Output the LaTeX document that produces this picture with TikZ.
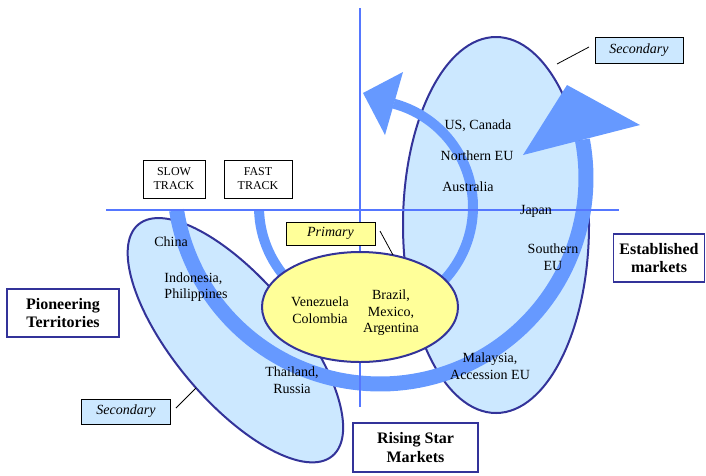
\documentclass[tikz,border=0pt]{standalone}
\usepackage{fontspec}
\setmainfont{Liberation Serif}
\usetikzlibrary{shapes.geometric}
\definecolor{paleblue}{HTML}{CCE8FF}
\definecolor{edgeblue}{HTML}{333399}
\definecolor{paleyellow}{HTML}{FFFF99}
\definecolor{flowblue}{HTML}{6699FF}
\definecolor{axisblue}{HTML}{5577FF}
\begin{document}
\begin{tikzpicture}[x=1pt,y=-1pt,
  region/.style={ellipse, draw=edgeblue, line width=2pt, fill=paleblue, inner sep=0pt},
  core/.style={ellipse, draw=edgeblue, line width=2pt, fill=paleyellow, inner sep=0pt},
  axisline/.style={draw=axisblue, line width=1.4pt},
  trackbox/.style={draw=black, line width=0.8pt, fill=white, align=center, inner sep=0pt,
    font=\fontsize{12}{14}\selectfont},
  tagbox/.style={draw=black, line width=0.8pt, inner sep=0pt,
    font=\fontsize{14}{16}\selectfont\itshape},
  groupbox/.style={draw=edgeblue, line width=1.5pt, fill=white, align=center, inner sep=0pt,
    font=\fontsize{16}{18.5}\selectfont\bfseries},
  lbl/.style={font=\fontsize{14}{16.5}\selectfont, align=center, inner sep=0pt},
  leader/.style={draw=black, line width=0.8pt}]

\useasboundingbox (0,0) rectangle (706,475);

% market regions
\node[region, minimum width=302pt, minimum height=122pt, rotate=-50] (pioneerzone) at (235.4,340.2) {};
\node[region, minimum width=186pt, minimum height=376pt] (establishedzone) at (496,225) {};

% slow-track flow: wide sweep from the pioneering side up into the established side
\draw[flowblue, line width=15pt] plot[domain=189:370.7, samples=90]
  ({380+206*cos(\x)},{178-206*sin(\x)});
\fill[flowblue] (523,155) -- (640,125) -- (567,85) -- cycle;

% fast-track flow: tight loop round the primary markets
\draw[flowblue, line width=10pt] plot[domain=181.6:435, samples=90]
  ({366+107*cos(\x)},{207-107*sin(\x)});
\fill[flowblue] (403,72) -- (363,93) -- (385,135) -- cycle;

% axes
\coordinate (hleft) at (106,210);
\coordinate (hright) at (619,210);
\coordinate (vtop) at (360,8);
\coordinate (vbottom) at (360,407);
\draw[axisline] (hleft) -- (hright);
\draw[axisline] (vtop) -- (vbottom);

% primary markets
\node[core, minimum width=196pt, minimum height=110pt] (primaryzone) at (360,307) {};

% country labels
\node[lbl] (china) at (171,242) {China};
\node[lbl, align=left] (indonesia) at (196,287) {Indonesia,\\Philippines};
\node[lbl] (thailand) at (292,380) {Thailand,\\Russia};
\node[lbl] (us) at (478,126) {US, Canada};
\node[lbl] (northeu) at (477,156) {Northern EU};
\node[lbl] (australia) at (468,187) {Australia};
\node[lbl] (japan) at (536,211) {Japan};
\node[lbl] (southeu) at (553,257) {Southern\\EU};
\node[lbl] (malaysia) at (490,366) {Malaysia,\\Accession EU};
\node[lbl] (venezuela) at (320,310) {Venezuela\\Colombia};
\node[lbl] (brazil) at (391,313) {Brazil,\\Mexico,\\Argentina};

% track boxes
\node[trackbox, minimum width=62pt, minimum height=38pt] (slow) at (174,179) {SLOW\\TRACK};
\node[trackbox, minimum width=68pt, minimum height=38pt] (fast) at (258,179) {FAST\\TRACK};

% primary / secondary tags
\node[tagbox, fill=paleyellow, minimum width=89pt, minimum height=23pt] (primary) at (330.5,233.5) {Primary};
\node[tagbox, fill=paleblue, minimum width=88pt, minimum height=26pt] (secondtop) at (639,50) {Secondary};
\node[tagbox, fill=paleblue, minimum width=89pt, minimum height=25pt] (secondlow) at (126,411.5) {Secondary};
\coordinate (ptop) at (380,231);
\coordinate (ptip) at (393,255);
\coordinate (stop) at (589,47);
\coordinate (stip) at (557,64);
\coordinate (ltop) at (196,388);
\coordinate (ltip) at (176,408);
\draw[leader] (ptop) -- (ptip);
\draw[leader] (stop) -- (stip);
\draw[leader] (ltop) -- (ltip);

% group boxes
\node[groupbox, minimum width=112pt, minimum height=48pt] (pioneer) at (63,313) {Pioneering\\Territories};
\node[groupbox, minimum width=91pt, minimum height=48pt] (established) at (659,258) {Established\\markets};
\node[groupbox, minimum width=125pt, minimum height=49pt] (rising) at (415.5,447.5) {Rising Star\\Markets};
\end{tikzpicture}
\end{document}
